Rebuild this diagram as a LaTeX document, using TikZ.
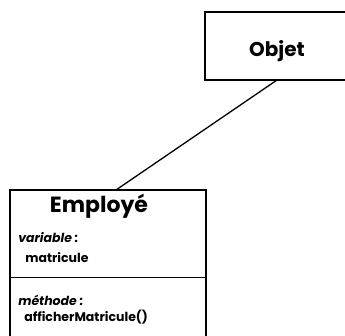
\documentclass[tikz,border=0pt]{standalone}
\usepackage{fontspec}
\setmainfont{Poppins}
\usepackage{tikz}
\usetikzlibrary{positioning}

\begin{document}
\begin{tikzpicture}[x=1pt,y=-1pt,
	semithick, % line style
	classbox/.style={draw,line width=1.4pt,rectangle,inner sep=0pt},
	label/.style={inner sep=0pt,anchor=base west,font=\fontsize{12.5}{15}\selectfont\bfseries}]
	\useasboundingbox (0,0) rectangle (345,335);
	\clip (0,0) rectangle (345,335);

	\node[classbox,minimum width=142pt,minimum height=68pt] (objet) at (276,46) {};
	\node[classbox,minimum width=196pt,minimum height=170pt] (employe) at (108,275) {};
	\node[inner sep=0pt,anchor=base,font=\fontsize{20}{22}\selectfont\bfseries] (objtxt) at (277,56) {Objet};

	\node[inner sep=0pt,anchor=base,font=\fontsize{22}{24}\selectfont\bfseries] (emptxt) at (99,212) {Employé};
	\node[label] (var) at (18,242) {\textit{variable :}};
	\node[label] (mat) at (25,262) {matricule};
	\node[label] (meth) at (18,305) {\textit{méthode :}};
	\node[label] (aff) at (24,321) {afficherMatricule()};

	\coordinate (sep1) at (10,277);
	\coordinate (sep2) at (206,277);
	\draw[line width=0.9pt] (sep1)--(sep2);
	\draw[line width=1.3pt] (objet.south) -- ([xshift=9pt]employe.north);

\end{tikzpicture}
\end{document}
